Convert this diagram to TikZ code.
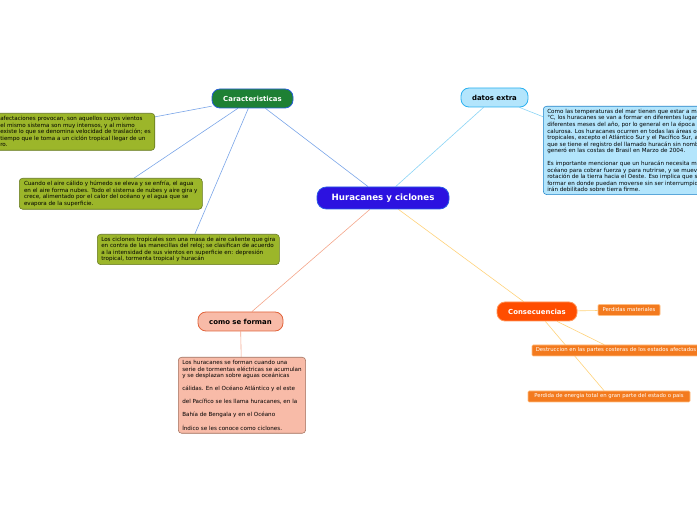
\documentclass[tikz,border=0pt]{standalone}
\usepackage{fontspec}
\setmainfont{DejaVu Sans}
\pgfdeclarelayer{background}
\pgfsetlayers{background,main}
\begin{document}
\begin{tikzpicture}[x=0.75pt,y=-0.75pt,
  topic/.style={rounded corners=6pt, line width=0.6pt, font=\bfseries\fontsize{5.2}{6}\selectfont, inner sep=0pt},
  btext/.style={font=\fontsize{4.2}{4.9}\selectfont, align=left, inner xsep=3pt, inner ysep=2pt, rounded corners=2.5pt, line width=0.4pt},
  leaf/.style={font=\fontsize{4}{4.5}\selectfont, text=white, fill=orgleaf, draw=orgleafb, line width=0.4pt, rounded corners=0.8pt, inner sep=0pt},
  cl/.style={line width=0.45pt}
]
\definecolor{mainf}{RGB}{44,18,224}
\definecolor{mainb}{RGB}{40,90,230}
\definecolor{carf}{RGB}{30,128,52}
\definecolor{carb}{RGB}{40,95,215}
\definecolor{datf}{RGB}{179,229,252}
\definecolor{datb}{RGB}{41,176,240}
\definecolor{comf}{RGB}{248,187,168}
\definecolor{comb}{RGB}{225,100,60}
\definecolor{conf}{RGB}{255,77,0}
\definecolor{conb}{RGB}{255,150,90}
\definecolor{grf}{RGB}{156,182,42}
\definecolor{grb}{RGB}{100,118,30}
\definecolor{dtb}{RGB}{30,130,200}
\definecolor{ctb}{RGB}{160,110,90}
\definecolor{orgleaf}{RGB}{243,122,30}
\definecolor{orgleafb}{RGB}{255,190,130}
\definecolor{lcar}{RGB}{122,165,232}
\definecolor{ldat}{RGB}{138,212,245}
\definecolor{lcom}{RGB}{244,165,138}
\definecolor{lcon}{RGB}{255,210,122}

\useasboundingbox (0,0) rectangle (697,520);
\clip (0,0) rectangle (697,520);

% main
\node[topic, fill=mainf, draw=mainb, text=white, font=\bfseries\fontsize{6.5}{7}\selectfont, minimum width=99pt, minimum height=16.5pt, rounded corners=7pt] (main) at (383,198) {Huracanes y ciclones};

% topics
\node[topic, fill=carf, draw=carb, text=white, minimum width=60.75pt, minimum height=14.25pt] (car) at (252.5,98.5) {Caracteristicas};
\node[topic, fill=datf, draw=datb, text=black, minimum width=50.25pt, minimum height=14.25pt] (dat) at (494.5,97.5) {datos extra};
\node[topic, fill=comf, draw=comb, text=black, minimum width=63.75pt, minimum height=14.25pt] (com) at (240.5,321.5) {como se forman};
\node[topic, fill=conf, draw=conb, text=white, minimum width=60pt, minimum height=14.25pt] (con) at (537,311.5) {Consecuencias};

% green boxes
\node[btext, fill=grf, draw=grb, anchor=north west, minimum width=117.75pt, minimum height=27.75pt] (g1) at (-4,113) {afectaciones provocan, son aquellos cuyos vientos\\
el mismo sistema son muy intensos, y al mismo\\
existe lo que se denomina velocidad de traslación; es\\
tiempo que le toma a un ciclón tropical llegar de un\\
ro.};
\node[btext, fill=grf, draw=grb, anchor=north west, minimum width=137.25pt, minimum height=23.25pt] (g2) at (19,178) {Cuando el aire cálido y húmedo se eleva y se enfría, el agua\\
en el aire forma nubes. Todo el sistema de nubes y aire gira y\\
crece, alimentado por el calor del océano y el agua que se\\
evapora de la superficie.};
\node[btext, fill=grf, draw=grb, anchor=north west, minimum width=136.5pt, minimum height=22.5pt] (g3) at (97,234) {Los ciclones tropicales son una masa de aire caliente que gira\\
en contra de las manecillas del reloj; se clasifican de acuerdo\\
a la intensidad de sus vientos en superficie en: depresión\\
tropical, tormenta tropical y huracán};

% datos text
\node[btext, fill=datf, draw=dtb, anchor=north west, minimum height=66pt] (dt) at (543,106) {Como las temperaturas del mar tienen que estar a más\\
°C, los huracanes se van a formar en diferentes lugares\\
diferentes meses del año, por lo general en la época más\\
calurosa. Los huracanes ocurren en todas las áreas oc\\
tropicales, excepto el Atlántico Sur y el Pacífico Sur, a\\
que se tiene el registro del llamado huracán sin nombre\\
generó en las costas de Brasil en Marzo de 2004.\\[4.9pt]
Es importante mencionar que un huracán necesita mu\\
océano para cobrar fuerza y para nutrirse, y se mueve\\
rotación de la tierra hacia el Oeste. Eso implica que se\\
formar en donde puedan moverse sin ser interrumpido\\
irán debilitado sobre tierra firme.};

% como text
\node[btext, fill=comf, draw=ctb, anchor=north west, minimum width=93pt, minimum height=57pt] (ct) at (178,357) {Los huracanes se forman cuando una\\
serie de tormentas eléctricas se acumulan\\
y se desplazan sobre aguas oceánicas\\[4.9pt]
cálidas. En el Océano Atlántico y el este\\[4.9pt]
del Pacífico se les llama huracanes, en la\\[4.9pt]
Bahía de Bengala y en el Océano\\[4.9pt]
Índico se les conoce como ciclones.};

% consecuencias leaves
\node[leaf, minimum width=46.5pt, minimum height=8.25pt] (pm) at (629,310) {Perdidas materiales};
\node[leaf, minimum width=126pt, minimum height=8.25pt] (de) at (616,350.5) {Destruccion en las partes costeras de los estados afectados};
\node[leaf, minimum width=121.5pt, minimum height=8.25pt] (pe) at (609,396.5) {Perdida de energia total en gran parte del estado o pais};

% connectors
\begin{pgfonlayer}{background}
\draw[cl, lcar] (main) -- (car);
\draw[cl, lcar] (car) -- (g1);
\draw[cl, lcar] (car) -- (g2);
\draw[cl, lcar] (car) -- (g3);
\draw[cl, ldat] (main) -- (dat);
\draw[cl, ldat] (dat) -- (dt);
\draw[cl, lcom] (main) -- (com);
\draw[cl, lcom] (com) -- (ct);
\draw[cl, lcon] (main) -- (con);
\draw[cl, lcon] (con) -- (pm);
\draw[cl, lcon] (con) -- (de);
\draw[cl, lcon] (con) -- (pe);
\end{pgfonlayer}
\end{tikzpicture}
\end{document}
